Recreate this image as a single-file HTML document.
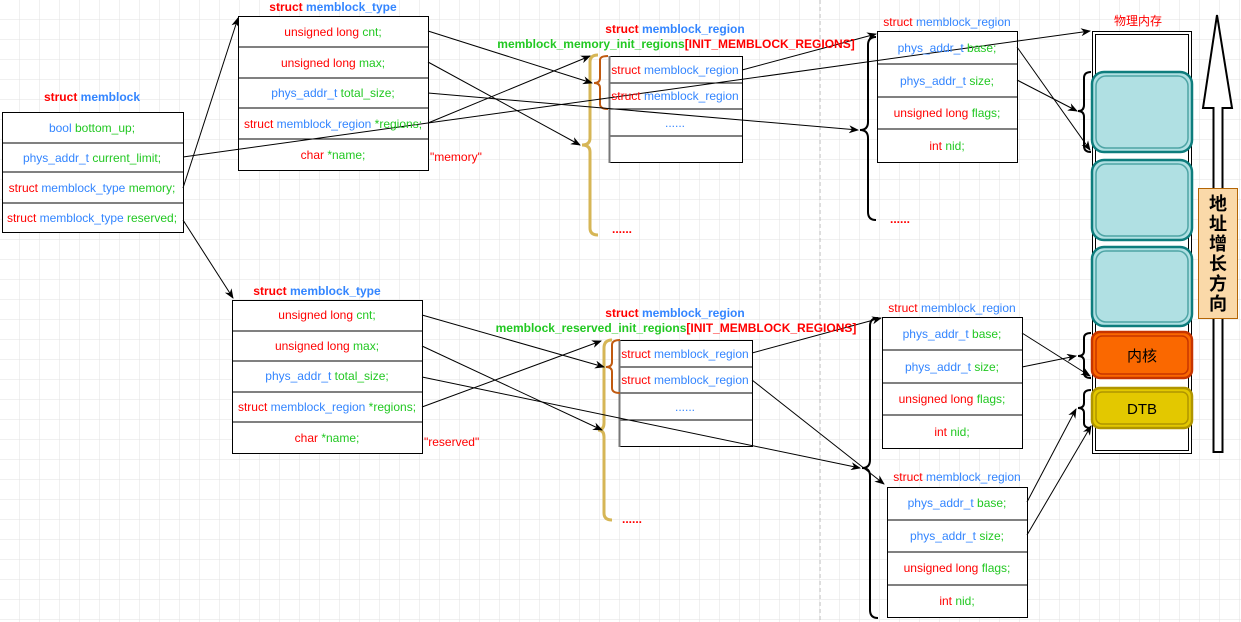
<!DOCTYPE html>
<html><head><meta charset="utf-8"><style>
body{margin:0;width:1241px;height:622px;overflow:hidden;background:#fff}
svg{display:block}
text{font-family:"Liberation Sans","Noto Sans CJK SC",sans-serif;font-size:12px}
.b{font-weight:bold}
.r{fill:#ff0000}.u{fill:#3385ff}.g{fill:#22c822}
</style></head><body>
<svg width="1241" height="622" viewBox="0 0 1241 622" xmlns="http://www.w3.org/2000/svg">
<defs>
<pattern id="grid" width="20" height="20" patternUnits="userSpaceOnUse"><path d="M20 0V20H0" fill="none" stroke="#e2e2e2" stroke-width="1"/></pattern>
<marker id="a" markerWidth="10" markerHeight="8" refX="9" refY="4" orient="auto" markerUnits="userSpaceOnUse"><path d="M0,0 L10,4 L0,8 L3,4z" fill="#000"/></marker>
</defs>
<rect width="1241" height="622" fill="url(#grid)"/>
<line x1="820" y1="0" x2="820" y2="622" stroke="#bbb" stroke-dasharray="4,3"/>

<g fill="#fff" stroke="#000" stroke-width="1">
<rect x="2.5" y="112.5" width="181" height="120"/>
<rect x="238.5" y="16.5" width="190" height="154"/>
<rect x="232.5" y="300.5" width="190" height="153"/>
<rect x="609.5" y="56.5" width="133" height="106"/>
<rect x="619.5" y="340.5" width="133" height="106"/>
<rect x="877.5" y="31.5" width="140" height="131"/>
<rect x="882.5" y="317.5" width="140" height="131"/>
<rect x="887.5" y="487.5" width="140" height="130"/>
<rect x="1092.5" y="31.5" width="99" height="422"/>
<rect x="1095.5" y="34.5" width="93" height="416"/>
</g>
<g stroke="#000">
<path d="M2 143H183M2 172H183M2 203H183"/>
<path d="M238 47H428M238 78H428M238 108H428M238 139H428"/>
<path d="M232 331H422M232 361H422M232 392H422M232 422H422"/>
<path d="M609 83H742M609 109H742M609 136H742"/>
<path d="M619 367H752M619 393H752M619 420H752"/>
<path d="M877 64H1017M877 97H1017M877 129H1017"/>
<path d="M882 350H1022M882 383H1022M882 415H1022"/>
<path d="M887 520H1027M887 552H1027M887 585H1027"/>
</g>
<path d="M609.5 56V163M619.5 340V447" stroke="#777" stroke-width="2"/>

<g stroke-width="2.5">
<rect x="1092" y="72" width="100" height="80" rx="12" fill="#b0e0e3" stroke="#0e7d7d"/>
<rect x="1096" y="76" width="92" height="72" rx="10" fill="none" stroke="#0e7d7d" stroke-width="1.5" opacity=".6"/>
<rect x="1092" y="160" width="100" height="80" rx="12" fill="#b0e0e3" stroke="#0e7d7d"/>
<rect x="1096" y="164" width="92" height="72" rx="10" fill="none" stroke="#0e7d7d" stroke-width="1.5" opacity=".6"/>
<rect x="1092" y="247" width="100" height="79" rx="12" fill="#b0e0e3" stroke="#0e7d7d"/>
<rect x="1096" y="251" width="92" height="71" rx="10" fill="none" stroke="#0e7d7d" stroke-width="1.5" opacity=".6"/>
<rect x="1092" y="332" width="100" height="46" rx="8" fill="#fa6800" stroke="#c73500"/>
<rect x="1096" y="336" width="92" height="38" rx="6" fill="none" stroke="#c73500" stroke-width="1.5"/>
<rect x="1092" y="388" width="100" height="40" rx="8" fill="#e3c800" stroke="#b09500"/>
<rect x="1096" y="392" width="92" height="32" rx="6" fill="none" stroke="#b09500" stroke-width="1.5"/>
</g>
<text x="1142" y="361" text-anchor="middle" style="font-size:15px">内核</text>
<text x="1142" y="414" text-anchor="middle" style="font-size:15px">DTB</text>

<path d="M1217 15L1232 108H1222.5V452H1213.5V108H1203Z" fill="#fff" stroke="#000" stroke-width="2"/>
<rect x="1198.5" y="188.5" width="39" height="130" fill="#fad9a9" stroke="#b46504"/>
<g style="font-size:18px;font-weight:bold">
<text x="1218" y="210" text-anchor="middle" style="font-size:18px;font-weight:bold">地</text>
<text x="1218" y="230" text-anchor="middle" style="font-size:18px;font-weight:bold">址</text>
<text x="1218" y="250" text-anchor="middle" style="font-size:18px;font-weight:bold">增</text>
<text x="1218" y="270" text-anchor="middle" style="font-size:18px;font-weight:bold">长</text>
<text x="1218" y="290" text-anchor="middle" style="font-size:18px;font-weight:bold">方</text>
<text x="1218" y="310" text-anchor="middle" style="font-size:18px;font-weight:bold">向</text>
</g>

<g fill="none" stroke-width="2">
<path d="M598 55Q590 55 590 62V138Q590 145 582 145Q590 145 590 152V228Q590 235 598 235" stroke="#d6b656" stroke-width="3"/>
<path d="M608 56Q600 56 600 60V78Q600 83 594 83Q600 83 600 88V104Q600 109 608 109" stroke="#c05a10"/>
<path d="M612 340Q604 340 604 348V423Q604 430 598 430Q604 430 604 437V513Q604 520 612 520" stroke="#d6b656" stroke-width="3"/>
<path d="M620 340Q612 340 612 345V362Q612 367 606 367Q612 367 612 372V388Q612 393 620 393" stroke="#c05a10"/>
<path d="M876 37Q868 37 868 45V122Q868 130 860 130Q868 130 868 138V212Q868 220 876 220" stroke="#000"/>
<path d="M878 318Q870 318 870 326V460Q870 468 862 468Q870 468 870 476V610Q870 618 878 618" stroke="#000"/>
<path d="M1091 72Q1084 72 1084 78V105Q1084 111 1078 111Q1084 111 1084 117V146Q1084 152 1091 152" stroke="#000"/>
<path d="M1091 333Q1084 333 1084 338V351Q1084 356 1078 356Q1084 356 1084 361V373Q1084 378 1091 378" stroke="#000"/>
<path d="M1091 390Q1084 390 1084 395V403Q1084 408 1078 408Q1084 408 1084 413V423Q1084 428 1091 428" stroke="#000"/>
</g>

<g stroke="#000" stroke-width="1" fill="none" marker-end="url(#a)">
<path d="M183 188L238 18"/>
<path d="M183 220L233 298"/>
<path d="M183 157L1090 31"/>
<path d="M428 31L592 83"/>
<path d="M428 62L580 145"/>
<path d="M428 93L858 130"/>
<path d="M428 123L590 56"/>
<path d="M742 70L876 34"/>
<path d="M1017 47L1090 150"/>
<path d="M1017 80L1077 111"/>
<path d="M422 315L604 367"/>
<path d="M422 346L602 430"/>
<path d="M422 377L860 468"/>
<path d="M422 407L601 341"/>
<path d="M752 353L881 318"/>
<path d="M752 380L884 484"/>
<path d="M1022 333L1090 376"/>
<path d="M1022 367L1076 356"/>
<path d="M1027 502L1076 409"/>
<path d="M1027 535L1091 426"/>
</g>

<text x="92" y="101" text-anchor="middle" class="b"><tspan class="r">struct </tspan><tspan class="u">memblock</tspan></text>
<text x="333" y="11" text-anchor="middle" class="b"><tspan class="r">struct </tspan><tspan class="u">memblock_type</tspan></text>
<text x="317" y="295" text-anchor="middle" class="b"><tspan class="r">struct </tspan><tspan class="u">memblock_type</tspan></text>
<text x="675" y="33" text-anchor="middle" class="b"><tspan class="r">struct </tspan><tspan class="u">memblock_region</tspan></text>
<text x="676" y="48" text-anchor="middle" class="b"><tspan class="g">memblock_memory_init_regions</tspan><tspan class="r">[INIT_MEMBLOCK_REGIONS]</tspan></text>
<text x="675" y="317" text-anchor="middle" class="b"><tspan class="r">struct </tspan><tspan class="u">memblock_region</tspan></text>
<text x="676" y="332" text-anchor="middle" class="b"><tspan class="g">memblock_reserved_init_regions</tspan><tspan class="r">[INIT_MEMBLOCK_REGIONS]</tspan></text>
<text x="947" y="26" text-anchor="middle"><tspan class="r">struct </tspan><tspan class="u">memblock_region</tspan></text>
<text x="952" y="312" text-anchor="middle"><tspan class="r">struct </tspan><tspan class="u">memblock_region</tspan></text>
<text x="957" y="481" text-anchor="middle"><tspan class="r">struct </tspan><tspan class="u">memblock_region</tspan></text>
<text x="1138" y="25" text-anchor="middle" class="r">物理内存</text>

<text x="92" y="132" text-anchor="middle"><tspan class="u">bool </tspan><tspan class="g">bottom_up;</tspan></text>
<text x="92" y="162" text-anchor="middle"><tspan class="u">phys_addr_t </tspan><tspan class="g">current_limit;</tspan></text>
<text x="92" y="192" text-anchor="middle"><tspan class="r">struct </tspan><tspan class="u">memblock_type </tspan><tspan class="g">memory;</tspan></text>
<text x="92" y="222" text-anchor="middle"><tspan class="r">struct </tspan><tspan class="u">memblock_type </tspan><tspan class="g">reserved;</tspan></text>

<text x="333" y="36" text-anchor="middle"><tspan class="r">unsigned long </tspan><tspan class="g">cnt;</tspan></text>
<text x="333" y="67" text-anchor="middle"><tspan class="r">unsigned long </tspan><tspan class="g">max;</tspan></text>
<text x="333" y="97" text-anchor="middle"><tspan class="u">phys_addr_t </tspan><tspan class="g">total_size;</tspan></text>
<text x="333" y="128" text-anchor="middle"><tspan class="r">struct </tspan><tspan class="u">memblock_region </tspan><tspan class="g">*regions;</tspan></text>
<text x="333" y="159" text-anchor="middle"><tspan class="r">char </tspan><tspan class="g">*name;</tspan></text>
<text x="430" y="161" class="r">"memory"</text>

<text x="327" y="319" text-anchor="middle"><tspan class="r">unsigned long </tspan><tspan class="g">cnt;</tspan></text>
<text x="327" y="350" text-anchor="middle"><tspan class="r">unsigned long </tspan><tspan class="g">max;</tspan></text>
<text x="327" y="380" text-anchor="middle"><tspan class="u">phys_addr_t </tspan><tspan class="g">total_size;</tspan></text>
<text x="327" y="411" text-anchor="middle"><tspan class="r">struct </tspan><tspan class="u">memblock_region </tspan><tspan class="g">*regions;</tspan></text>
<text x="327" y="442" text-anchor="middle"><tspan class="r">char </tspan><tspan class="g">*name;</tspan></text>
<text x="424" y="446" class="r">"reserved"</text>

<text x="675" y="74" text-anchor="middle"><tspan class="r">struct </tspan><tspan class="u">memblock_region</tspan></text>
<text x="675" y="100" text-anchor="middle"><tspan class="r">struct </tspan><tspan class="u">memblock_region</tspan></text>
<text x="675" y="127" text-anchor="middle" class="u">......</text>
<text x="612" y="233" class="r b">......</text>
<text x="685" y="358" text-anchor="middle"><tspan class="r">struct </tspan><tspan class="u">memblock_region</tspan></text>
<text x="685" y="384" text-anchor="middle"><tspan class="r">struct </tspan><tspan class="u">memblock_region</tspan></text>
<text x="685" y="411" text-anchor="middle" class="u">......</text>
<text x="622" y="523" class="r b">......</text>
<text x="890" y="223" class="r b">......</text>

<text x="947" y="52" text-anchor="middle"><tspan class="u">phys_addr_t </tspan><tspan class="g">base;</tspan></text>
<text x="947" y="85" text-anchor="middle"><tspan class="u">phys_addr_t </tspan><tspan class="g">size;</tspan></text>
<text x="947" y="117" text-anchor="middle"><tspan class="r">unsigned long </tspan><tspan class="g">flags;</tspan></text>
<text x="947" y="150" text-anchor="middle"><tspan class="r">int </tspan><tspan class="g">nid;</tspan></text>

<text x="952" y="338" text-anchor="middle"><tspan class="u">phys_addr_t </tspan><tspan class="g">base;</tspan></text>
<text x="952" y="371" text-anchor="middle"><tspan class="u">phys_addr_t </tspan><tspan class="g">size;</tspan></text>
<text x="952" y="403" text-anchor="middle"><tspan class="r">unsigned long </tspan><tspan class="g">flags;</tspan></text>
<text x="952" y="436" text-anchor="middle"><tspan class="r">int </tspan><tspan class="g">nid;</tspan></text>

<text x="957" y="507" text-anchor="middle"><tspan class="u">phys_addr_t </tspan><tspan class="g">base;</tspan></text>
<text x="957" y="540" text-anchor="middle"><tspan class="u">phys_addr_t </tspan><tspan class="g">size;</tspan></text>
<text x="957" y="572" text-anchor="middle"><tspan class="r">unsigned long </tspan><tspan class="g">flags;</tspan></text>
<text x="957" y="605" text-anchor="middle"><tspan class="r">int </tspan><tspan class="g">nid;</tspan></text>
</svg>
</body></html>
